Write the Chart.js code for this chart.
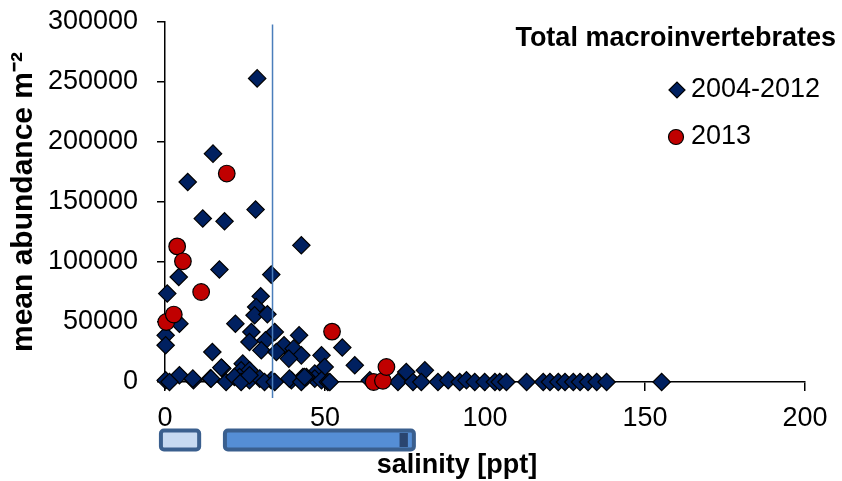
<!DOCTYPE html>
<html>
<head>
<meta charset="utf-8">
<script src="https://cdn.jsdelivr.net/npm/chart.js@4.4.1/dist/chart.umd.min.js"></script>
<style>
  html, body { margin: 0; padding: 0; background: #fff; }
  #wrap { width: 842px; height: 481px; }
</style>
</head>
<body>
<div id="wrap"><canvas id="grafica" width="842" height="481"></canvas></div>
<script>
// salinity [ppt] / mean abundance, 2004-2012 samples
const salOld = [
  15.0, 7.1, 28.3, 11.8, 18.6, 42.6, 17.0, 33.2, 4.3, 0.7, 29.9, 28.5, 28.0, 32.0,
  4.5, 22.0, 0.2, 0.2, 27.0, 34.3, 41.9, 26.4, 31.4, 37.2, 40.2, 30.1, 34.8, 42.6,
  38.7, 48.9, 49.9, 55.4, 59.3, 14.8, 17.9, 24.3, 23.8, 4.5, 17.6, 26.4, 46.8,
  75.4, 81.2, 28.8,
  0.2, 1.4, 8.9, 14.2, 19.1, 23.3, 26.4, 29.6, 33.2, 39.5, 43.1, 46.8, 48.9, 50.9,
  8.7, 14.4, 21.7, 23.8, 26.4, 31.1, 34.3, 38.9, 42.6, 44.2, 43.6, 51.5, 64.0,
  72.8, 77.5, 80.1, 85.3, 88.5, 92.1, 94.2, 96.8, 99.9, 103.1, 104.6, 106.7, 113.0,
  118.2, 120.3, 122.9, 125.0, 127.6, 129.7, 132.2, 134.9, 138.0, 155.2
];
const abundOld = [
  190300, 166700, 143700, 136200, 133900, 113900, 93700, 89500, 87500, 73700, 71400, 62500, 55600, 56400,
  48600, 48600, 38900, 30600, 41700, 41700, 38900, 33300, 34700, 30600, 27800, 26400, 25000, 22200,
  19500, 22200, 12500, 28700, 13900, 25000, 11200, 15300, 9700, 5600, 12000, 9700, 7000,
  8300, 9700, 253000,
  1400, 0, 1400, 3000, 0, 4200, 1400, 2800, 1400, 1400, 4200, 2800, 1400, 0,
  2800, 2800, 4200, 0, 5600, 0, 0, 2800, 0, 4200, 4200, 0, 1400,
  0, 0, 0, 0, 1400, 0, 1400, 0, 0, 0, 0, 0, 0,
  0, 0, 0, 0, 0, 0, 0, 0, 0, 0
];
// 2013 samples
const salNew = [0.4, 2.75, 3.8, 5.6, 11.3, 19.3, 52.2, 65.2, 68.1, 69.2];
const abundNew = [50000, 56200, 113000, 100600, 75000, 173700, 42000, 0, 1000, 12500];

const xTicks = [0, 50, 100, 150, 200];
const yTicks = [0, 50000, 100000, 150000, 200000, 250000, 300000];

// reference salinity line and the range bars under the axis
const refLineX = 33.6;
const rangeStart = [-1.9, 18.1];
const rangeEnd = [11.3, 78.4];
const rangeFill = ['#C6D9F1', '#558ED5'];
const rangeMark = [73.3, 75.9];

const FONT = "'Liberation Sans', Arial, sans-serif";

function toPoints(xs, ys) {
  return xs.map((x, i) => ({ x: x, y: ys[i] }));
}

const extras = {
  id: 'extras',
  afterDatasetsDraw(chart) {
    const { ctx, chartArea } = chart;
    const xs = chart.scales.x, ys = chart.scales.y;
    ctx.save();
    // vertical line
    const lx = xs.getPixelForValue(refLineX);
    ctx.strokeStyle = '#4A7EBB';
    ctx.lineWidth = 1.5;
    ctx.beginPath();
    ctx.moveTo(lx, ys.getPixelForValue(298000));
    ctx.lineTo(lx, chartArea.bottom + 16);
    ctx.stroke();
    ctx.restore();
  },
  afterDraw(chart) {
    const { ctx, chartArea } = chart;
    const xs = chart.scales.x;
    ctx.save();
    // range bars
    const top = 428.5, bot = 451.5;
    ctx.lineWidth = 4;
    ctx.strokeStyle = '#3A5F8E';
    rangeStart.forEach((s, i) => {
      const a = xs.getPixelForValue(s) + 2, b = xs.getPixelForValue(rangeEnd[i]) - 2;
      ctx.beginPath();
      ctx.roundRect(a, top + 2, b - a, bot - top - 4, 3);
      ctx.fillStyle = rangeFill[i];
      ctx.fill();
      ctx.stroke();
    });
    ctx.fillStyle = '#2A4570';
    const m1 = xs.getPixelForValue(rangeMark[0]), m2 = xs.getPixelForValue(rangeMark[1]);
    ctx.fillRect(m1, top + 4.5, m2 - m1, bot - top - 9);

    // x axis title
    ctx.fillStyle = '#000';
    ctx.font = 'bold 27px ' + FONT;
    ctx.textAlign = 'center';
    ctx.textBaseline = 'middle';
    ctx.fillText('salinity [ppt]', (chartArea.left + chartArea.right) / 2 - 28, 466);

    // legend
    ctx.textAlign = 'right';
    ctx.fillText('Total macroinvertebrates', 836, 39);
    ctx.textAlign = 'left';
    ctx.font = '27px ' + FONT;
    ctx.fillText(chart.data.datasets[1].label, 691, 90);
    ctx.fillText(chart.data.datasets[0].label, 691, 137);
    ctx.strokeStyle = '#000';
    ctx.lineWidth = 1.2;
    ctx.fillStyle = '#002060';
    Chart.helpers.drawPoint(ctx, { pointStyle: 'rectRot', radius: 8, borderWidth: 1.2 }, 677, 90);
    ctx.fillStyle = '#C00000';
    Chart.helpers.drawPoint(ctx, { pointStyle: 'circle', radius: 7.5, borderWidth: 1.2 }, 676, 137);
    ctx.restore();
  }
};

const ctx = document.getElementById('grafica').getContext('2d');

new Chart(ctx, {
  type: 'scatter',
  data: {
    datasets: [
      {
        label: '2013',
        data: toPoints(salNew, abundNew),
        pointStyle: 'circle',
        pointRadius: 8.3,
        backgroundColor: '#C00000',
        borderColor: '#000',
        borderWidth: 1.2,
        clip: false,
        order: 0
      },
      {
        label: '2004-2012',
        data: toPoints(salOld, abundOld),
        pointStyle: 'rectRot',
        pointRadius: 8.7,
        backgroundColor: '#002060',
        borderColor: '#000',
        borderWidth: 1.2,
        clip: false,
        order: 1
      }
    ]
  },
  options: {
    responsive: false,
    animation: false,
    layout: { padding: { top: 22, right: 37, left: 0, bottom: 0 } },
    plugins: {
      legend: { display: false },
      tooltip: { enabled: false }
    },
    scales: {
      x: {
        type: 'linear',
        min: 0,
        max: 200,
        afterBuildTicks: s => { s.ticks = xTicks.map(v => ({ value: v })); },
        afterFit: s => { s.height = 99; },
        ticks: {
          color: '#000',
          padding: 11,
          font: { family: FONT, size: 27 },
          callback: v => String(v)
        },
        grid: { drawOnChartArea: false, tickLength: 9, color: '#000', lineWidth: 1.5 },
        border: { color: '#000', width: 1.5 }
      },
      y: {
        min: 0,
        max: 300000,
        afterBuildTicks: s => { s.ticks = yTicks.map(v => ({ value: v })); },
        afterFit: s => { s.width = 165; s.paddingTop = 0; s.paddingBottom = 0; },
        ticks: {
          color: '#000',
          padding: 19,
          font: { family: FONT, size: 27 },
          callback: v => String(v)
        },
        grid: { drawOnChartArea: false, tickLength: 8, color: '#000', lineWidth: 1.5 },
        border: { color: '#000', width: 1.5 },
        title: {
          display: true,
          text: 'mean abundance m⁻²',
          color: '#000',
          font: { family: FONT, size: 30, weight: 'bold' },
          padding: { top: 6, bottom: 0 }
        }
      }
    }
  },
  plugins: [extras]
});
</script>
</body>
</html>
